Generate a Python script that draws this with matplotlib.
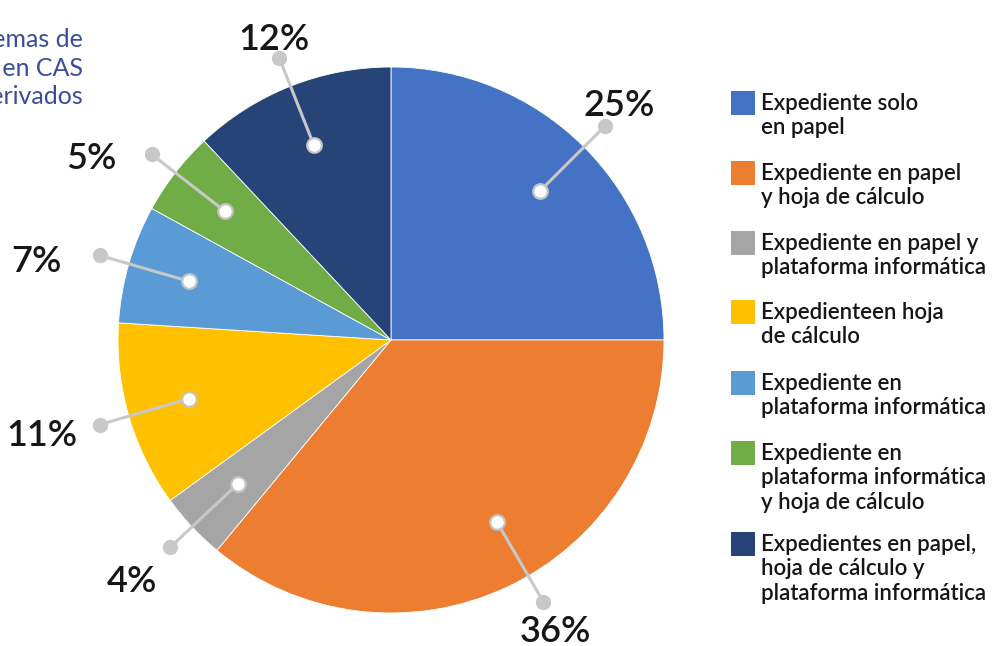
import numpy as np
import matplotlib.pyplot as plt
from matplotlib.patches import Rectangle

plt.rcParams['font.family'] = ['Lato', 'DejaVu Sans']

categories = [
    "Expediente solo\nen papel",
    "Expediente en papel\ny hoja de cálculo",
    "Expediente en papel y\nplataforma informática",
    "Expedienteen hoja\nde cálculo",
    "Expediente en\nplataforma informática",
    "Expediente en\nplataforma informática\ny hoja de cálculo",
    "Expedientes en papel,\nhoja de cálculo y\nplataforma informática",
]
shares = [25, 36, 4, 11, 7, 5, 12]
colors = ["#4472C4", "#ED7D31", "#A5A5A5", "#FFC000", "#5B9BD5", "#70AD47", "#264478"]
title_lines = "Sistemas de\nexpedientes en CAS\ny derivados"

# layout in pixel units (y up)
W, H = 992, 646
cx, cy, R = 391, H - 340, 273
angle_shift = [0, 5, 0, 0, 0, 0, 0]
label_offsets = [(14, 20), (12, -30), (-38, -34), (-58, -11), (-64, -6), (-60, -4), (-5, 19)]

fig = plt.figure(figsize=(W / 100, H / 100), dpi=100)
ax = fig.add_axes([0, 0, 1, 1])
ax.pie(shares, colors=colors, startangle=90, counterclock=False,
       center=(cx, cy), radius=R,
       wedgeprops=dict(edgecolor="white", linewidth=0.6))
ax.set_xlim(0, W)
ax.set_ylim(0, H)
ax.set_aspect("equal")
ax.axis("off")

# leader lines with dots and percentage labels
total = sum(shares)
start = 90.0
for i, v in enumerate(shares):
    sweep = 360.0 * v / total
    mid = np.radians(start - sweep / 2 + angle_shift[i])
    start -= sweep
    x0, y0 = cx + 0.77 * R * np.cos(mid), cy + 0.77 * R * np.sin(mid)
    x1, y1 = cx + 1.11 * R * np.cos(mid), cy + 1.11 * R * np.sin(mid)
    ax.plot([x0, x1], [y0, y1], color="#c8c8c8", lw=2.2, zorder=3)
    ax.plot(x1, y1, "o", ms=10, color="#c8c8c8", mec="#c8c8c8", zorder=4)
    ax.plot(x0, y0, "o", ms=10.5, color="white", mec="#c4c4c4", mew=1.6, zorder=5)
    dx, dy = label_offsets[i]
    ax.text(x1 + dx, y1 + dy, f"{v}%", ha="center", va="center",
            fontsize=26, fontweight="semibold", color="#161616", zorder=6)

# legend
tops = [91, 161, 231, 300, 371, 441, 532]
for top, lab, c in zip(tops, categories, colors):
    ax.add_patch(Rectangle((731, H - top - 24), 24, 24, color=c, lw=0))
    ax.text(761, H - top - 2, lab, ha="left", va="top", fontsize=16,
            fontweight="semibold", color="#161616", linespacing=1.2)

ax.text(83, H - 28, title_lines, ha="right", va="top", fontsize=18,
        color="#3a4d9c", linespacing=1.3)

fig.savefig("out.png", dpi=100)
